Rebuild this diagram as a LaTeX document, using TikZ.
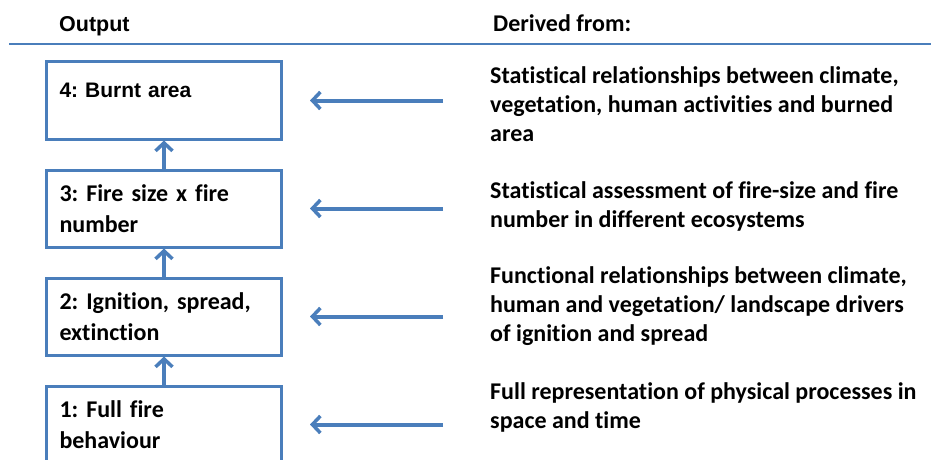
\documentclass[tikz,border=0pt]{standalone}
\usepackage{fontspec}
\setmainfont[Ligatures={NoCommon,NoRare,NoContextual}]{Carlito}
\newfontfamily\headfont{Liberation Sans}
\frenchspacing
\usetikzlibrary{positioning, arrows.meta}
\definecolor{boxblue}{RGB}{74,126,187}

\begin{document}
\begin{tikzpicture}[x=1pt,y=-1pt,node distance=108pt,on grid,
    >={Straight Barb[length=8pt,width=17pt,line width=3.5pt]},
    outbox/.style={draw=boxblue,line width=3pt,minimum width=235pt,minimum height=77pt,
      text width=209pt,inner xsep=13pt,align=left,font=\bfseries\fontsize{24}{31}\selectfont},
    srctext/.style={anchor=north west,inner sep=0pt,align=left,font=\bfseries\fontsize{24}{29}\selectfont},
    headtext/.style={anchor=base west,inner sep=0pt},
    up/.style={->,draw=boxblue,line width=3.5pt},
    feed/.style={->,draw=boxblue,line width=4pt,shorten <=47pt,shorten >=27pt}]
   \useasboundingbox (0,0) rectangle (931,460);
   % column heads
   \node[headtext,font=\headfont\bfseries\fontsize{21.5}{26}\selectfont] (h_out) at (59,32) {Output};
   \node[headtext,font=\bfseries\fontsize{24}{29}\selectfont] (h_src) at (493,32) {Derived from:};
   \coordinate (r_l) at (9,44);
   \coordinate (r_r) at (931,44);
   \draw[boxblue,line width=2.5pt] (r_l) -- (r_r);
   % output levels
   \node[outbox,font=\headfont\bfseries\fontsize{21}{26}\selectfont,text height=15pt,text depth=22pt] (b_4) at (164,100.5) {4: Burnt area};
   \node[outbox,below=of b_4] (b_3) {3: Fire size x fire\\number};
   \node[outbox,below=of b_3] (b_2) {2: Ignition, spread,\\extinction};
   \node[outbox,below=of b_2] (b_1) {1: Full fire\\behaviour};
   % sources
   \node[srctext] (t_4) at (490,62.7) {\strut Statistical relationships between climate,\\vegetation, human activities and burned\\area};
   \node[srctext] (t_3) at (490,177.7) {\strut Statistical assessment of fire-size and fire\\number in different ecosystems};
   \node[srctext] (t_2) at (490,262.7) {\strut Functional relationships between climate,\\human and vegetation/ landscape drivers\\of ignition and spread};
   \node[srctext] (t_1) at (490,378.7) {\strut Full representation of physical processes in\\space and time};
   \draw[up] (b_1) -- (b_2);
   \draw[up] (b_2) -- (b_3);
   \draw[up] (b_3) -- (b_4);
   \draw[feed] (b_4.east -| t_4.west) -- (b_4.east);
   \draw[feed] (b_3.east -| t_3.west) -- (b_3.east);
   \draw[feed] (b_2.east -| t_2.west) -- (b_2.east);
   \draw[feed] (b_1.east -| t_1.west) -- (b_1.east);
\end{tikzpicture}
\end{document}
